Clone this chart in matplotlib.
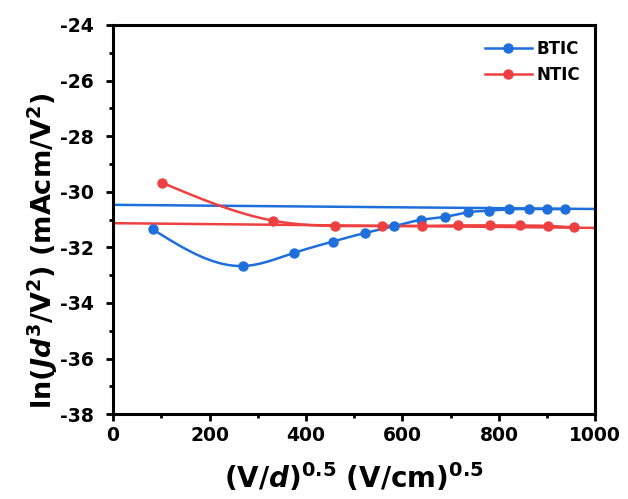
import numpy as np
import matplotlib.pyplot as plt
from matplotlib.lines import Line2D

# Data
x_btic = [82, 270, 375, 456, 523, 582, 638, 689, 735, 779, 822, 862, 900, 938]
y_btic = [-31.35, -32.67, -32.20, -31.79, -31.48, -31.24, -31.01, -30.90,
          -30.74, -30.68, -30.63, -30.62, -30.62, -30.63]
x_ntic = [101, 332, 460, 558, 640, 715, 782, 844, 902, 955]
y_ntic = [-29.67, -31.04, -31.23, -31.23, -31.23, -31.21, -31.21, -31.21,
          -31.23, -31.28]
# linear fit lines (end points)
fit_x = [0, 1000]
fit_btic = [-30.47, -30.62]
fit_ntic = [-31.13, -31.30]

c_btic = '#1E6FDC'
c_ntic = '#EE4040'


def spline(x, y, n=300):
    # natural cubic spline for the connecting line (like Origin "Spline")
    x = np.asarray(x, float); y = np.asarray(y, float)
    k = len(x); h = np.diff(x)
    A = np.zeros((k, k)); b = np.zeros(k)
    A[0, 0] = A[-1, -1] = 1
    for i in range(1, k - 1):
        A[i, i - 1] = h[i - 1]; A[i, i] = 2 * (h[i - 1] + h[i]); A[i, i + 1] = h[i]
        b[i] = 6 * ((y[i + 1] - y[i]) / h[i] - (y[i] - y[i - 1]) / h[i - 1])
    M = np.linalg.solve(A, b)
    xs = np.linspace(x[0], x[-1], n)
    j = np.clip(np.searchsorted(x, xs) - 1, 0, k - 2)
    t0 = x[j + 1] - xs; t1 = xs - x[j]
    ys = (M[j] * t0**3 + M[j + 1] * t1**3) / (6 * h[j]) \
        + (y[j] / h[j] - M[j] * h[j] / 6) * t0 + (y[j + 1] / h[j] - M[j + 1] * h[j] / 6) * t1
    return xs, ys


plt.rcParams['font.family'] = 'DejaVu Sans'
plt.rcParams['font.weight'] = 'bold'
plt.rcParams['axes.unicode_minus'] = False
plt.rcParams['mathtext.fontset'] = 'custom'
plt.rcParams['mathtext.rm'] = 'DejaVu Sans:bold'
plt.rcParams['mathtext.it'] = 'DejaVu Sans:italic:bold'
plt.rcParams['mathtext.bf'] = 'DejaVu Sans:bold'

fig = plt.figure(figsize=(6.28, 4.99), dpi=100)
ax = fig.add_axes([0.180, 0.170, 0.768, 0.780])

ax.plot(fit_x, fit_btic, color=c_btic, lw=1.8)
ax.plot(fit_x, fit_ntic, color=c_ntic, lw=1.8)
xs, ys = spline(x_btic, y_btic)
ax.plot(xs, ys, color=c_btic, lw=1.8)
xs, ys = spline(x_ntic, y_ntic)
ax.plot(xs, ys, color=c_ntic, lw=1.8)
ax.plot(x_btic, y_btic, 'o', color=c_btic, ms=6.5)
ax.plot(x_ntic, y_ntic, 'o', color=c_ntic, ms=6.5)

ax.set_xlim(0, 1000)
ax.set_ylim(-38, -24)
ax.set_xticks(np.arange(0, 1001, 200))
ax.set_xticks(np.arange(100, 1000, 200), minor=True)
ax.set_yticks(np.arange(-38, -23, 2))
ax.set_yticks(np.arange(-37, -24, 2), minor=True)
ax.tick_params(which='major', direction='out', length=5, width=2, labelsize=13.5)
ax.tick_params(axis='y', which='major', pad=9)
ax.tick_params(which='minor', direction='out', length=3, width=2)
for s in ax.spines.values():
    s.set_linewidth(2.2)

ax.set_xlabel(r'$\mathrm{(V/}\mathit{d}\mathrm{)}^{\mathrm{0.5}}\ \mathrm{(V/cm)}^{\mathrm{0.5}}$',
              fontsize=20)
ax.set_ylabel(r'$\mathrm{ln(}\mathit{Jd}^{\mathrm{3}}\mathrm{/V}^{\mathrm{2}}\mathrm{)\ (mAcm/V}^{\mathrm{2}}\mathrm{)}$',
              fontsize=19.5)
ax.xaxis.set_label_coords(0.5, -0.12, transform=ax.transAxes)
ax.yaxis.set_label_coords(-0.11, 0.42, transform=ax.transAxes)

handles = [Line2D([], [], color=c_btic, lw=1.8, marker='o', ms=6.5),
           Line2D([], [], color=c_ntic, lw=1.8, marker='o', ms=6.5)]
ax.legend(handles, ['BTIC', 'NTIC'], loc='upper right', frameon=False,
          fontsize=12, handlelength=2.8, numpoints=1, borderaxespad=0.5,
          handletextpad=0.3, labelspacing=0.5)

fig.savefig('out.png', dpi=100)
